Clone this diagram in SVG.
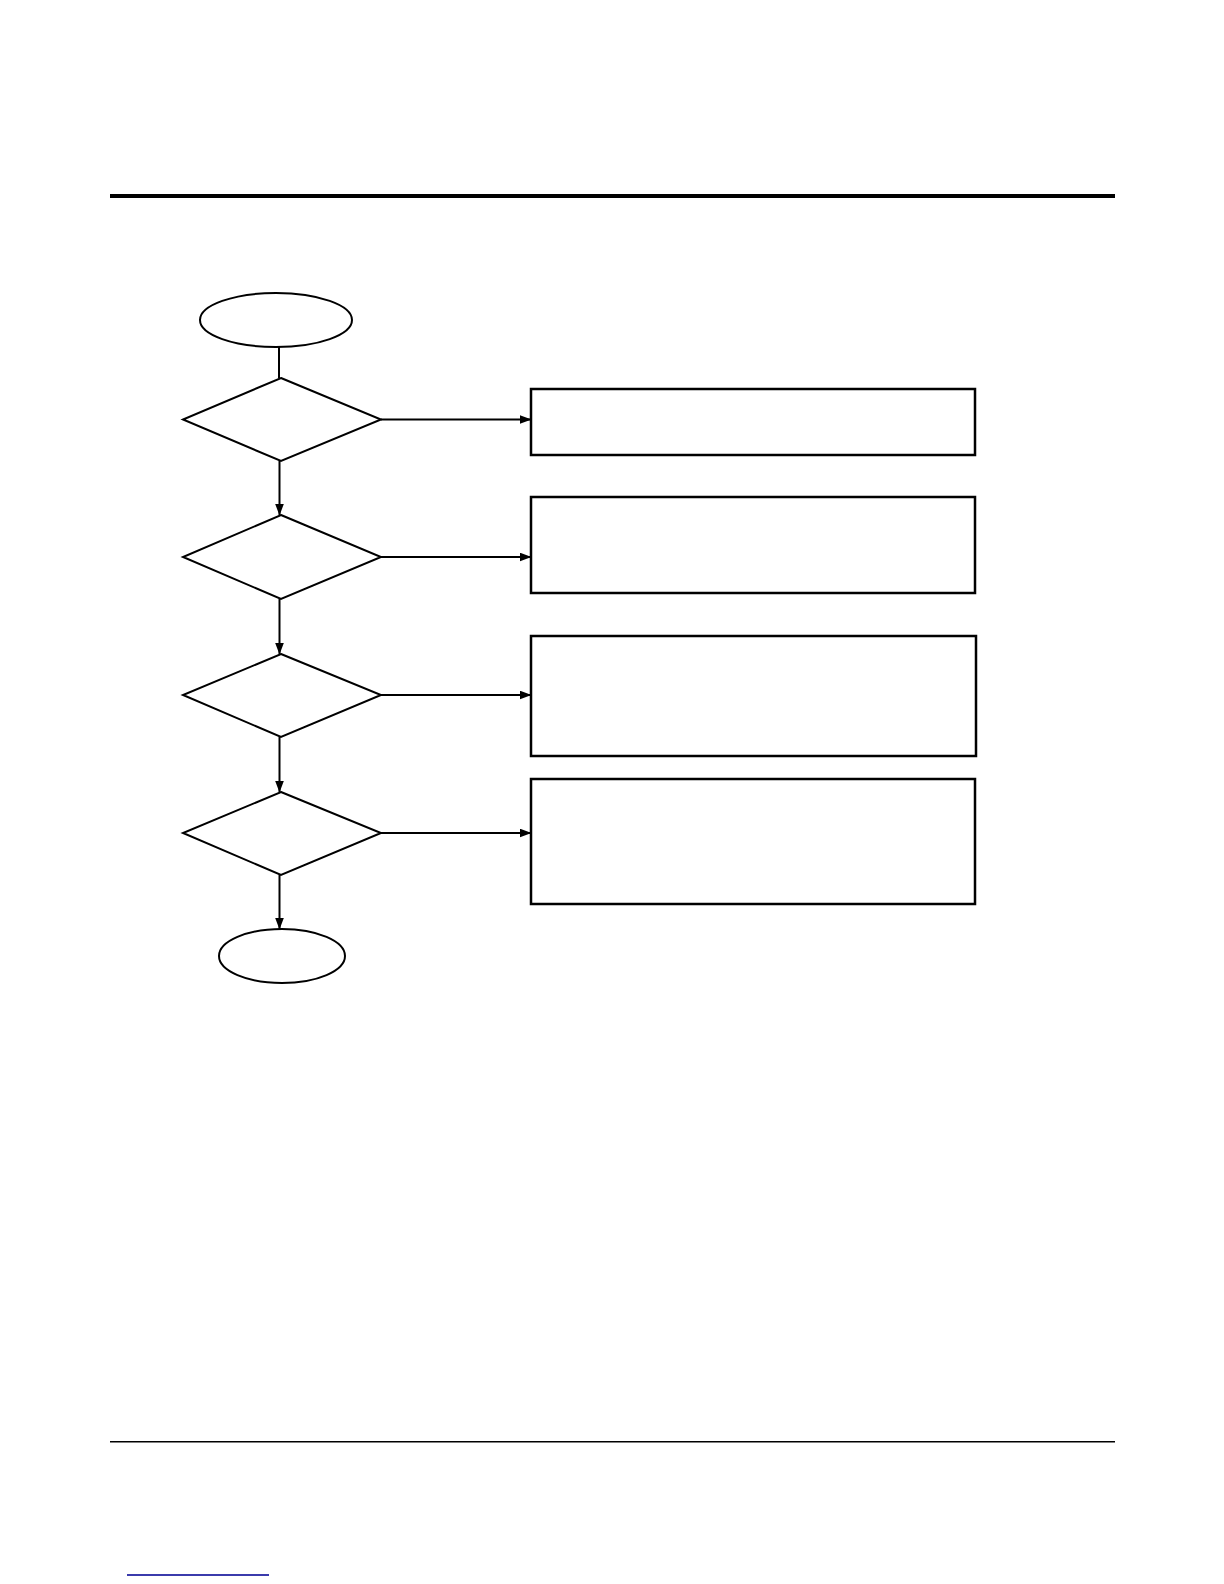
<svg xmlns="http://www.w3.org/2000/svg" width="1224" height="1584" viewBox="0 0 1224 1584">
<style>
.shape{fill:#fff;stroke:#000;stroke-width:2}
.box{fill:#fff;stroke:#000;stroke-width:2.5}
.conn{fill:none;stroke:#000;stroke-width:2}
</style>
<defs>
<marker id="arr" markerWidth="12" markerHeight="9" refX="11.5" refY="4.5" orient="auto" markerUnits="userSpaceOnUse">
<path d="M0,0 L12,4.5 L0,9 Z" fill="#000"/>
</marker>
</defs>
<rect width="1224" height="1584" fill="#fff"/>
<rect x="110" y="194" width="1005" height="4" fill="#000"/>
<rect x="110" y="1441" width="1005" height="1.5" fill="#000"/>
<rect x="127" y="1574.2" width="142" height="1.6" fill="#0c0c98"/>
<g id="connectors">
<line class="conn" x1="279" y1="347" x2="279" y2="378"/>
<line class="conn" x1="381" y1="419.5" x2="531" y2="419.5" marker-end="url(#arr)"/>
<line class="conn" x1="279.5" y1="461" x2="279.5" y2="515" marker-end="url(#arr)"/>
<line class="conn" x1="381" y1="557" x2="531" y2="557" marker-end="url(#arr)"/>
<line class="conn" x1="279.5" y1="599" x2="279.5" y2="654" marker-end="url(#arr)"/>
<line class="conn" x1="381" y1="695" x2="531" y2="695" marker-end="url(#arr)"/>
<line class="conn" x1="279.5" y1="737" x2="279.5" y2="792" marker-end="url(#arr)"/>
<line class="conn" x1="381" y1="833" x2="531" y2="833" marker-end="url(#arr)"/>
<line class="conn" x1="279.5" y1="875" x2="279.5" y2="929" marker-end="url(#arr)"/>
</g>
<g id="start"><ellipse class="shape" cx="276" cy="320" rx="76" ry="27"/></g>
<g id="decision1"><polygon class="shape" points="281,378 381,419.5 281,461 183,419.5"/></g>
<g id="decision2"><polygon class="shape" points="281,515 381,557 281,599 183,557"/></g>
<g id="decision3"><polygon class="shape" points="281,654 381,695 281,737 183,695"/></g>
<g id="decision4"><polygon class="shape" points="281,792 381,833 281,875 183,833"/></g>
<g id="end"><ellipse class="shape" cx="282" cy="956" rx="63" ry="27"/></g>
<g id="box1"><rect class="box" x="531" y="389" width="444" height="66"/></g>
<g id="box2"><rect class="box" x="531" y="497" width="444" height="96"/></g>
<g id="box3"><rect class="box" x="531" y="636" width="445" height="120"/></g>
<g id="box4"><rect class="box" x="531" y="779" width="444" height="125"/></g>
</svg>
